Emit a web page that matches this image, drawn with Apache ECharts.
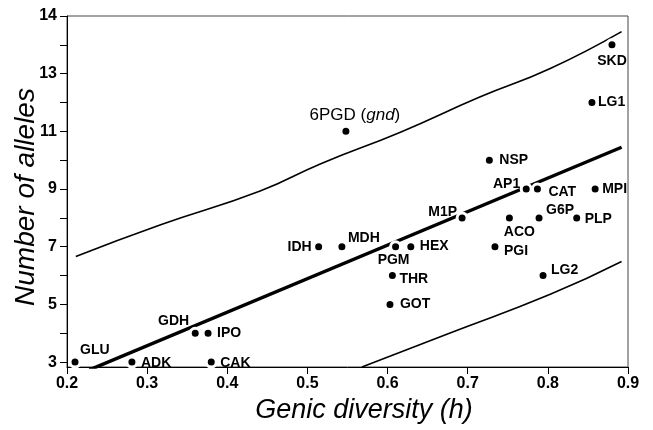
<!DOCTYPE html>
<html>
<head>
<meta charset="utf-8">
<title>Number of alleles vs genic diversity</title>
<script src="https://cdn.jsdelivr.net/npm/echarts@6/dist/echarts.min.js"></script>
<style>
	html, body { margin: 0; padding: 0; background: #fff; }
	#main { width: 653px; height: 430px; }
</style>
</head>
<body>
<div id="main"></div>
<script>
// loci
const genes = ['GLU', 'ADK', 'CAK', 'GDH', 'IPO', 'IDH', 'MDH', 'PGM', 'HEX', 'THR', 'GOT', '6PGD',
	'M1P', 'NSP', 'AP1', 'CAT', 'MPI', 'ACO', 'G6P', 'PLP', 'PGI', 'LG2', 'LG1', 'SKD'];
// genic diversity (h)
const diversity = [0.210, 0.281, 0.380, 0.360, 0.376, 0.514, 0.543, 0.610, 0.629, 0.606, 0.603, 0.548,
	0.693, 0.727, 0.773, 0.787, 0.859, 0.752, 0.789, 0.836, 0.734, 0.794, 0.855, 0.880];
// number of alleles
const alleles = [3, 3, 3, 4, 4, 7, 7, 7, 7, 6, 5, 11,
	8, 10, 9, 9, 9, 8, 8, 8, 7, 6, 12, 14];

// regression line, read at its two ends
const fitH = [0.228, 0.892];
const fitN = [2.73, 10.45];
// upper and lower band
const upperH = [0.211, 0.316, 0.441, 0.516, 0.616, 0.715, 0.803, 0.892];
const upperN = [6.66, 7.75, 8.93, 9.87, 10.97, 12.19, 13.18, 14.46];
const lowerH = [0.568, 0.678, 0.803, 0.892];
const lowerN = [2.83, 4.01, 5.35, 6.49];

// axis ticks and labels
const xTicks = [0.2, 0.3, 0.4, 0.5, 0.6, 0.7, 0.8, 0.9];
const yTicks = [3, 4, 5, 6, 7, 8, 9, 10, 11, 12, 13, 14, 15];
const yLabelValues = [3, 5, 7, 9, 11, 13, 15];
const yLabelText = ['3', '5', '7', '9', '11', '13', '14'];

// label placement: [align, dx, dy] from dot centre
const labelPlace = {
	GLU: ['left', 5, -12], ADK: ['left', 9, 1], CAK: ['left', 9, 1], GDH: ['right', -6, -12],
	IPO: ['left', 9, 0], IDH: ['right', -7, 0], MDH: ['left', 6, -9], PGM: ['center', -2, 13],
	HEX: ['left', 9, -1], THR: ['left', 7, 4], GOT: ['left', 10, 0], '6PGD': ['center', 9, -16],
	M1P: ['right', -5, -6], NSP: ['left', 10, 0], AP1: ['right', -6, -5], CAT: ['left', 11, 3],
	MPI: ['left', 7, 0], ACO: ['center', 10, 14], G6P: ['left', 7, -8], PLP: ['left', 8, 1],
	PGI: ['left', 9, 4], LG2: ['left', 8, -5], LG1: ['left', 6, 0], SKD: ['center', 0, 16]
};

const font = 'Liberation Sans';

function pairs(xs, ys) {
	return xs.map(function (x, i) { return [x, ys[i]]; });
}

// scatter points with their labels
const points = genes.map(function (g, i) {
	let p = labelPlace[g];
	let label = {
		show: true,
		position: 'inside',
		align: p[0],
		verticalAlign: 'middle',
		offset: [p[1], p[2]],
		color: '#000',
		fontFamily: font,
		fontSize: 14,
		fontWeight: 'bold',
		formatter: g
	};
	if (g === '6PGD') {
		label.fontSize = 17;
		label.fontWeight = 'normal';
		label.formatter = '6PGD ({i|gnd})';
		label.rich = { i: { fontStyle: 'italic', fontSize: 17, fontFamily: font, color: '#000' } };
	}
	return { name: g, value: [diversity[i], alleles[i]], label: label };
});

const chart = echarts.init(document.getElementById('main'));

const option = {
	animation: false,
	backgroundColor: '#fff',
	grid: {
		left: 67, right: 25, top: 16, bottom: 63,
		show: true, borderColor: '#444', borderWidth: 1
	},
	xAxis: {
		type: 'value',
		min: 0.2, max: 0.9, interval: 0.1,
		axisLine: { lineStyle: { color: '#000', width: 1 } },
		axisTick: { length: 7, lineStyle: { color: '#000' }, customValues: xTicks },
		axisLabel: {
			customValues: xTicks,
			color: '#000', fontFamily: font, fontSize: 16, fontWeight: 'bold', margin: 9,
			formatter: function (v) { return v.toFixed(1); }
		},
		splitLine: { show: false }
	},
	yAxis: {
		type: 'value',
		min: 2.83, max: 15,
		axisLine: { show: true, lineStyle: { color: '#000', width: 1 } },
		axisTick: { show: true, length: 7, lineStyle: { color: '#000' }, customValues: yTicks },
		axisLabel: {
			customValues: yLabelValues,
			color: '#000', fontFamily: font, fontSize: 16, fontWeight: 'bold', margin: 10,
			formatter: function (v) { return yLabelText[yLabelValues.indexOf(v)]; }
		},
		splitLine: { show: false }
	},
	graphic: [
		{
			type: 'text', x: 364, y: 410,
			style: {
				text: 'Genic diversity (h)', fill: '#000',
				font: 'italic 27px "Liberation Sans"', textAlign: 'center', textVerticalAlign: 'middle'
			}
		},
		{
			type: 'text', x: 26, y: 197, rotation: Math.PI / 2,
			style: {
				text: 'Number of alleles', fill: '#000',
				font: 'italic 28px "Liberation Sans"', textAlign: 'center', textVerticalAlign: 'middle'
			}
		}
	],
	series: [
		{
			type: 'line', data: pairs(upperH, upperN), smooth: true, showSymbol: false,
			lineStyle: { color: '#000', width: 1.6 }, z: 2
		},
		{
			type: 'line', data: pairs(lowerH, lowerN), smooth: true, showSymbol: false,
			lineStyle: { color: '#000', width: 1.6 }, z: 2
		},
		{
			type: 'line', data: pairs(fitH, fitN), showSymbol: false,
			lineStyle: { color: '#000', width: 3.4 }, z: 2
		},
		{
			type: 'scatter', data: points, symbolSize: 10,
			itemStyle: { color: '#000', borderColor: '#fff', borderWidth: 3, opacity: 1 },
			z: 5
		}
	]
};

chart.setOption(option);
</script>
</body>
</html>
